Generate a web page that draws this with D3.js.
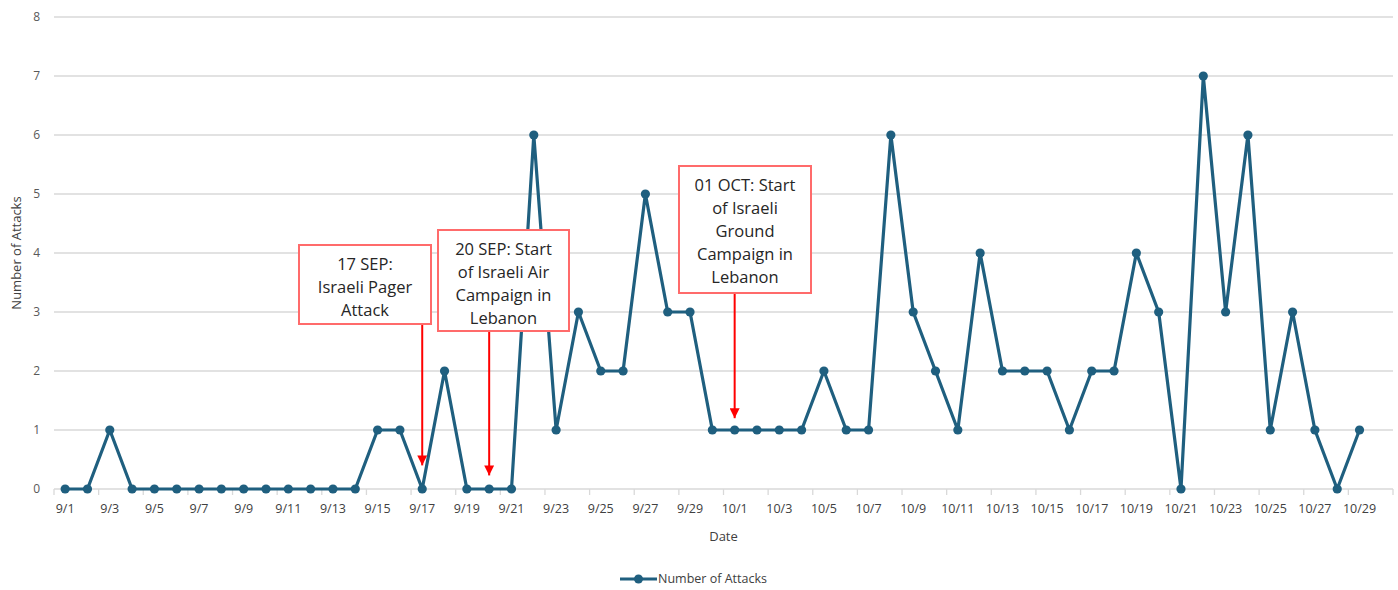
<!DOCTYPE html>
<html>
<head>
<meta charset="utf-8">
<script src="https://cdn.jsdelivr.net/npm/d3@7"></script>
<style>
  body { margin: 0; background: #fff; }
  text { font-family: "Open Sans", "Noto Sans", sans-serif; }
</style>
</head>
<body>
<svg id="chart" width="1398" height="590"></svg>
<script>
// dates 9/1 .. 10/30 (10/30 has no value, Excel leaves the slot empty)
const dates = []
for (let d = 1; d <= 30; d++) dates.push('9/' + d)
for (let d = 1; d <= 30; d++) dates.push('10/' + d)

const attacks = [
  0, 0, 1, 0, 0, 0, 0, 0, 0, 0,
  0, 0, 0, 0, 1, 1, 0, 2, 0, 0,
  0, 6, 1, 3, 2, 2, 5, 3, 3, 1,
  1, 1, 1, 1, 2, 1, 1, 6, 3, 2,
  1, 4, 2, 2, 2, 1, 2, 2, 4, 3,
  0, 7, 3, 6, 1, 3, 1, 0, 1
]

const yTicks = [0, 1, 2, 3, 4, 5, 6, 7, 8]

const noteDates = ['9/17', '9/20', '10/1']
const noteLines = [
  ['17 SEP:', 'Israeli Pager', 'Attack'],
  ['20 SEP: Start', 'of Israeli Air', 'Campaign in', 'Lebanon'],
  ['01 OCT: Start', 'of Israeli', 'Ground', 'Campaign in', 'Lebanon']
]
// where the arrow tip stops, in attack units
const noteTips = [0.4, 0.23, 1.2]

const svg = d3.select('#chart')
const plotLeft = 54
const plotRight = 1393
const plotTop = 17
const plotBottom = 489

const x = d3.scaleBand().domain(dates).range([plotLeft, plotRight])
const y = d3.scaleLinear().domain([0, 8]).range([plotBottom, plotTop])
const cx = d => x(d) + x.bandwidth() / 2

const lineColor = '#1f5f7f'
const textColor = '#595959'

// gridlines
svg.append('g')
  .selectAll('line')
  .data(yTicks.filter(t => t > 0))
  .join('line')
  .attr('x1', plotLeft)
  .attr('x2', plotRight)
  .attr('y1', d => y(d))
  .attr('y2', d => y(d))
  .attr('stroke', '#d9d9d9')
  .attr('stroke-width', 1.3)

// y axis labels
const yAxis = svg.append('g')
  .attr('transform', `translate(${plotLeft}, 0)`)
  .call(d3.axisLeft(y).tickValues(yTicks).tickSize(0).tickPadding(14))
yAxis.select('.domain').remove()
yAxis.selectAll('text')
  .attr('font-size', '12px')
  .attr('fill', textColor)
  .style('font-family', '"Open Sans", sans-serif')

// x axis: ticks every second slot, between categories
const xg = svg.append('g')
xg.append('line')
  .attr('x1', plotLeft)
  .attr('x2', plotRight)
  .attr('y1', plotBottom)
  .attr('y2', plotBottom)
  .attr('stroke', '#d9d9d9')
  .attr('stroke-width', 1.3)

const tickDates = dates.filter((d, i) => i % 2 === 0)
xg.selectAll('.tick')
  .data(tickDates)
  .join('line')
  .attr('class', 'tick')
  .attr('x1', d => x(d))
  .attr('x2', d => x(d))
  .attr('y1', plotBottom)
  .attr('y2', plotBottom + 6)
  .attr('stroke', '#d9d9d9')
  .attr('stroke-width', 1.3)
xg.append('line')
  .attr('x1', plotRight)
  .attr('x2', plotRight)
  .attr('y1', plotBottom)
  .attr('y2', plotBottom + 6)
  .attr('stroke', '#d9d9d9')
  .attr('stroke-width', 1.3)

xg.selectAll('.lbl')
  .data(tickDates.filter(d => d !== '10/30'))
  .join('text')
  .attr('class', 'lbl')
  .attr('x', d => cx(d))
  .attr('y', plotBottom + 24)
  .attr('text-anchor', 'middle')
  .attr('font-size', '12.5px')
  .attr('fill', '#404040')
  .text(d => d)

// axis titles
svg.append('text')
  .attr('transform', `translate(21, ${(plotTop + plotBottom) / 2}) rotate(-90)`)
  .attr('text-anchor', 'middle')
  .attr('font-size', '13px')
  .attr('fill', '#404040')
  .text('Number of Attacks')

svg.append('text')
  .attr('x', (plotLeft + plotRight) / 2)
  .attr('y', 541)
  .attr('text-anchor', 'middle')
  .attr('font-size', '13px')
  .attr('fill', '#404040')
  .text('Date')

// series
const pts = attacks.map((v, i) => ({ d: dates[i], v }))

svg.append('path')
  .datum(pts)
  .attr('fill', 'none')
  .attr('stroke', lineColor)
  .attr('stroke-width', 3.2)
  .attr('stroke-linejoin', 'round')
  .attr('d', d3.line().x(p => cx(p.d)).y(p => y(p.v)))

svg.append('g')
  .selectAll('circle')
  .data(pts)
  .join('circle')
  .attr('cx', p => cx(p.d))
  .attr('cy', p => y(p.v))
  .attr('r', 4.6)
  .attr('fill', lineColor)

// annotations
const boxes = [
  { x: 299, y: 245, w: 132, h: 79 },
  { x: 438, y: 230, w: 131, h: 101 },
  { x: 679, y: 166, w: 132, h: 127 }
]

svg.append('defs').append('marker')
  .attr('id', 'arrow')
  .attr('viewBox', '0 0 10 10')
  .attr('refX', 10)
  .attr('refY', 5)
  .attr('markerWidth', 5)
  .attr('markerHeight', 5)
  .attr('markerUnits', 'strokeWidth')
  .attr('orient', 'auto')
  .append('path')
  .attr('d', 'M0,0 L10,5 L0,10 z')
  .attr('fill', '#ff0000')

noteDates.forEach((nd, i) => {
  const b = boxes[i]
  const g = svg.append('g')
  g.append('line')
    .attr('x1', cx(nd))
    .attr('x2', cx(nd))
    .attr('y1', b.y + b.h)
    .attr('y2', y(noteTips[i]))
    .attr('stroke', '#ff0000')
    .attr('stroke-width', 2)
    .attr('marker-end', 'url(#arrow)')
  g.append('rect')
    .attr('x', b.x)
    .attr('y', b.y)
    .attr('width', b.w)
    .attr('height', b.h)
    .attr('fill', '#fff')
    .attr('stroke', '#ff6b6b')
    .attr('stroke-width', 2)
  const t = g.append('text')
    .attr('text-anchor', 'middle')
    .attr('font-size', '16.5px')
    .attr('fill', '#262626')
  noteLines[i].forEach((ln, j) => {
    t.append('tspan')
      .attr('x', b.x + b.w / 2)
      .attr('y', b.y + 25 + j * 23)
      .text(ln)
  })
})

// legend
const lg = svg.append('g').attr('transform', 'translate(620, 579)')
lg.append('line')
  .attr('x1', 0)
  .attr('x2', 37)
  .attr('stroke', lineColor)
  .attr('stroke-width', 3)
lg.append('circle')
  .attr('cx', 18.5)
  .attr('r', 4.5)
  .attr('fill', lineColor)
lg.append('text')
  .attr('x', 38)
  .attr('y', 4)
  .attr('font-size', '12.5px')
  .attr('fill', '#404040')
  .text('Number of Attacks')
</script>
</body>
</html>
